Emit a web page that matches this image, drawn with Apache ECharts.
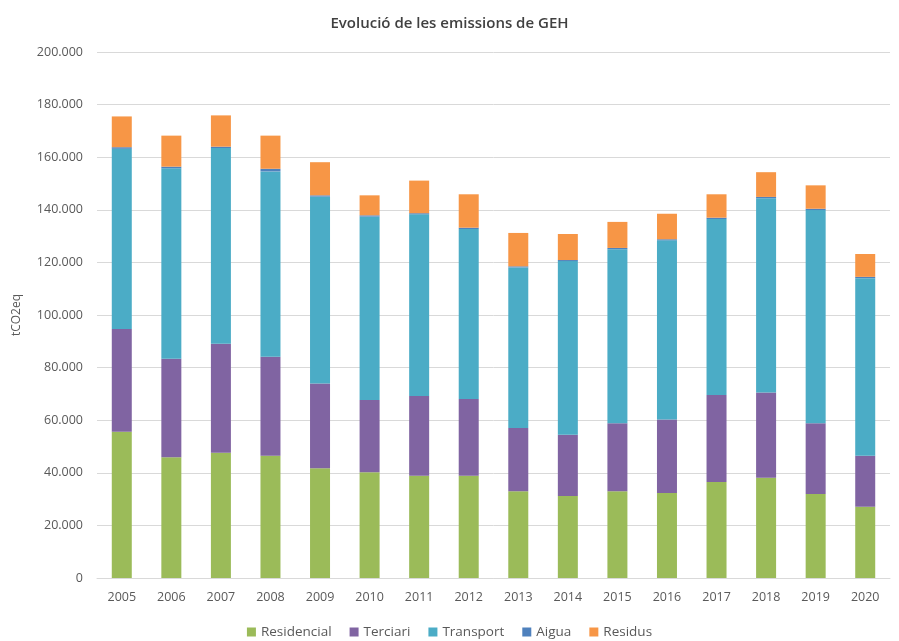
<!DOCTYPE html>
<html lang="ca">
<head>
    <meta charset="UTF-8">
    <title>Evolució de les emissions de GEH</title>
    <script src="https://cdn.jsdelivr.net/npm/echarts@6/dist/echarts.min.js"></script>
    <style>
        html, body { margin: 0; padding: 0; background: #fff; }
    </style>
</head>
<body>
<div id="main" style="width: 899px; height: 641px"></div>
<script>
    // anys
    let years = ['2005','2006','2007','2008','2009','2010','2011','2012','2013','2014','2015','2016','2017','2018','2019','2020'];
    // tCO2eq per sector (llegit del gràfic)
    let residencial = [55600,45900,47600,46500,41700,40200,38900,38900,33000,31200,33000,32300,36500,38100,31900,27100];
    let terciari    = [39100,37500,41500,37600,32300,27500,30300,29200,24000,23300,25800,28000,33100,32400,26900,19400];
    let transport   = [68500,72400,74400,70500,71000,69700,69100,64600,61100,66000,66200,68100,66900,73900,81100,67500];
    let aigua       = [600,600,500,1000,500,500,400,500,400,400,500,400,500,500,500,500];
    let residus     = [11700,11800,11900,12600,12600,7600,12400,12700,12700,9900,9900,9700,8900,9400,8900,8700];

    let names = ['Residencial','Terciari','Transport','Aigua','Residus'];
    let colors = ['#9BBB59','#8064A2','#4BACC6','#4F81BD','#F79646'];
    let values = [residencial, terciari, transport, aigua, residus];

    function fmt(v) {
        return String(v).replace(/\B(?=(\d{3})+(?!\d))/g, '.');
    }

    let myChart = echarts.init(document.getElementById('main'));
    let option = {
        animation: false,
        title: {
            text: 'Evolució de les emissions de GEH',
            left: 'center',
            top: 11,
            textStyle: {
                fontFamily: 'Open Sans',
                fontSize: 15,
                fontWeight: 600,
                color: '#404040'
            }
        },
        legend: {
            bottom: -3,
            left: 'center',
            itemWidth: 9,
            itemHeight: 9,
            itemGap: 18,
            icon: 'rect',
            textStyle: { fontFamily: 'Open Sans', fontSize: 13.5, color: '#595959' },
            data: names
        },
        grid: {
            left: 97,
            right: 9,
            top: 52,
            bottom: 63
        },
        xAxis: {
            type: 'category',
            data: years,
            axisTick: { show: false },
            axisLine: { lineStyle: { color: '#d9d9d9' } },
            axisLabel: { fontFamily: 'Open Sans', fontSize: 12.5, color: '#595959', margin: 13 }
        },
        yAxis: {
            type: 'value',
            min: 0,
            max: 200000,
            interval: 20000,
            name: 'tCO2eq',
            nameLocation: 'middle',
            nameGap: 74,
            nameTextStyle: { fontFamily: 'Open Sans', fontSize: 12, color: '#595959' },
            axisLine: { show: false },
            axisTick: { show: false },
            splitLine: { lineStyle: { color: '#d9d9d9' } },
            axisLabel: {
                fontFamily: 'Open Sans',
                fontSize: 12.5,
                color: '#595959',
                margin: 14,
                formatter: fmt
            }
        },
        series: names.map(function (n, i) {
            return {
                name: n,
                type: 'bar',
                stack: 'total',
                barWidth: 20,
                itemStyle: { color: colors[i] },
                data: values[i]
            };
        })
    };
    myChart.setOption(option);
</script>
</body>
</html>
